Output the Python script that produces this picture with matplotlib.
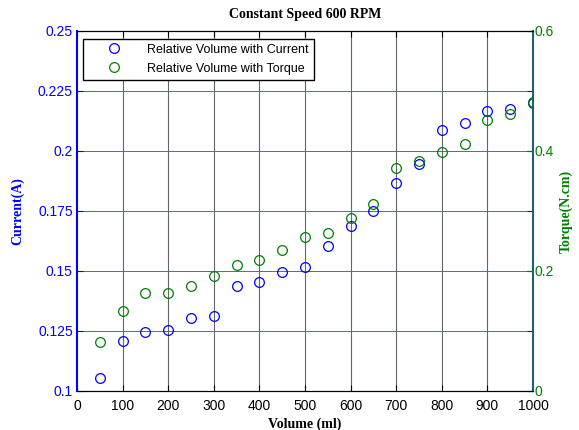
"""Two-axis scatter: relative volume against motor current and torque."""

import matplotlib
matplotlib.use("Agg")
import matplotlib.pyplot as plt
from matplotlib.lines import Line2D

# ── data ───────────────────────────────────────────────────────────────
volume = [50, 100, 150, 200, 250, 300, 350, 400, 450, 500,
          550, 600, 650, 700, 750, 800, 850, 900, 950, 1000]
current = [0.1055, 0.1208, 0.1245, 0.1253, 0.1306, 0.1314, 0.1437, 0.1455,
           0.1494, 0.1515, 0.1604, 0.1686, 0.1751, 0.1867, 0.1946, 0.2086,
           0.2117, 0.2165, 0.2175, 0.2200]
torque = [0.081, 0.133, 0.163, 0.163, 0.175, 0.191, 0.210, 0.219, 0.235,
          0.256, 0.264, 0.288, 0.312, 0.372, 0.383, 0.398, 0.412, 0.452,
          0.462, 0.481]
x_ticks = list(range(0, 1001, 100))
current_ticks = [0.1, 0.125, 0.15, 0.175, 0.2, 0.225, 0.25]
current_labels = ["0.1", "0.125", "0.15", "0.175", "0.2", "0.225", "0.25"]
torque_ticks = [0, 0.2, 0.4, 0.6]
torque_labels = ["0", "0.2", "0.4", "0.6"]

BLUE = (0, 0, 1)
GREEN = (0, 0.5, 0)
SPINE_R = "#1f5f7a"
SERIF = ["Liberation Serif", "DejaVu Serif"]
MS = 7

plt.rcParams["font.family"] = ["Liberation Sans", "DejaVu Sans"]
plt.rcParams["font.size"] = 10

fig = plt.figure(figsize=(5.79, 4.30), dpi=100)
ax1 = fig.add_axes([0.133, 0.0907, 0.7876, 0.8373])
ax2 = ax1.twinx()

# ── grid (drawn by hand to get the MATLAB look) ────────────────────────
for xv in x_ticks[1:-1]:
    ax1.axvline(xv, color="#666666", lw=0.8, zorder=0)
for yv in current_ticks[1:-1]:
    ax1.axhline(yv, color="#5555ff", lw=0.7, zorder=0)

ax1.plot(volume, current, "o", mfc="none", mec=BLUE, ms=MS, mew=0.9,
         zorder=3)
ax2.plot(volume, torque, "o", mfc="none", mec=GREEN, ms=MS, mew=0.9,
         zorder=3)

ax1.set_xlim(0, 1000)
ax1.set_ylim(0.1, 0.25)
ax2.set_ylim(0, 0.6)

ax1.set_xticks(x_ticks)
ax1.set_yticks(current_ticks)
ax1.set_yticklabels(current_labels)
ax2.set_yticks(torque_ticks)
ax2.set_yticklabels(torque_labels)

ax1.tick_params(axis="x", direction="in", top=True, length=4, width=0.8,
                labelsize=10, pad=6)
ax1.tick_params(axis="y", direction="in", right=True, length=4, width=0.8,
                colors=BLUE, labelcolor=BLUE, labelsize=10, pad=3)
ax2.tick_params(axis="y", direction="in", length=4, width=0.8,
                colors=GREEN, labelcolor=GREEN, labelsize=10, pad=1)

ax1.spines["left"].set_color(BLUE)
ax1.spines["left"].set_linewidth(1.5)
ax2.spines["left"].set_visible(False)
ax2.spines["right"].set_color(SPINE_R)
ax2.spines["right"].set_linewidth(1.5)
ax1.spines["right"].set_visible(False)
for a in (ax1, ax2):
    a.spines["top"].set_color("black")
    a.spines["bottom"].set_color("black")

ax1.set_title("Constant Speed 600 RPM", family=SERIF, fontweight="bold",
              fontsize=10, pad=9)
ax1.set_xlabel("Volume (ml)", family=SERIF, fontweight="bold", fontsize=10,
               labelpad=3)
ax1.set_ylabel("Current(A)", family=SERIF, fontweight="bold", fontsize=10,
               color=BLUE, labelpad=10)
ax2.set_ylabel("Torque(N.cm)", family=SERIF, fontweight="bold", fontsize=10,
               color=GREEN, labelpad=4)

handles = [
    Line2D([], [], ls="none", marker="o", mfc="none", mec=BLUE, ms=MS,
           mew=0.9),
    Line2D([], [], ls="none", marker="o", mfc="none", mec=GREEN, ms=MS,
           mew=0.9),
]
leg = ax2.legend(handles, ["Relative Volume with Current",
                           "Relative Volume with Torque"],
                 loc="upper left", bbox_to_anchor=(0.008, 0.985),
                 fancybox=False, framealpha=1, edgecolor="black",
                 fontsize=9, handlelength=4.2, handletextpad=0.5,
                 borderpad=0.4, labelspacing=0.55, borderaxespad=0.2)
leg.get_frame().set_linewidth(1.0)

fig.savefig("out.png", dpi=100)
